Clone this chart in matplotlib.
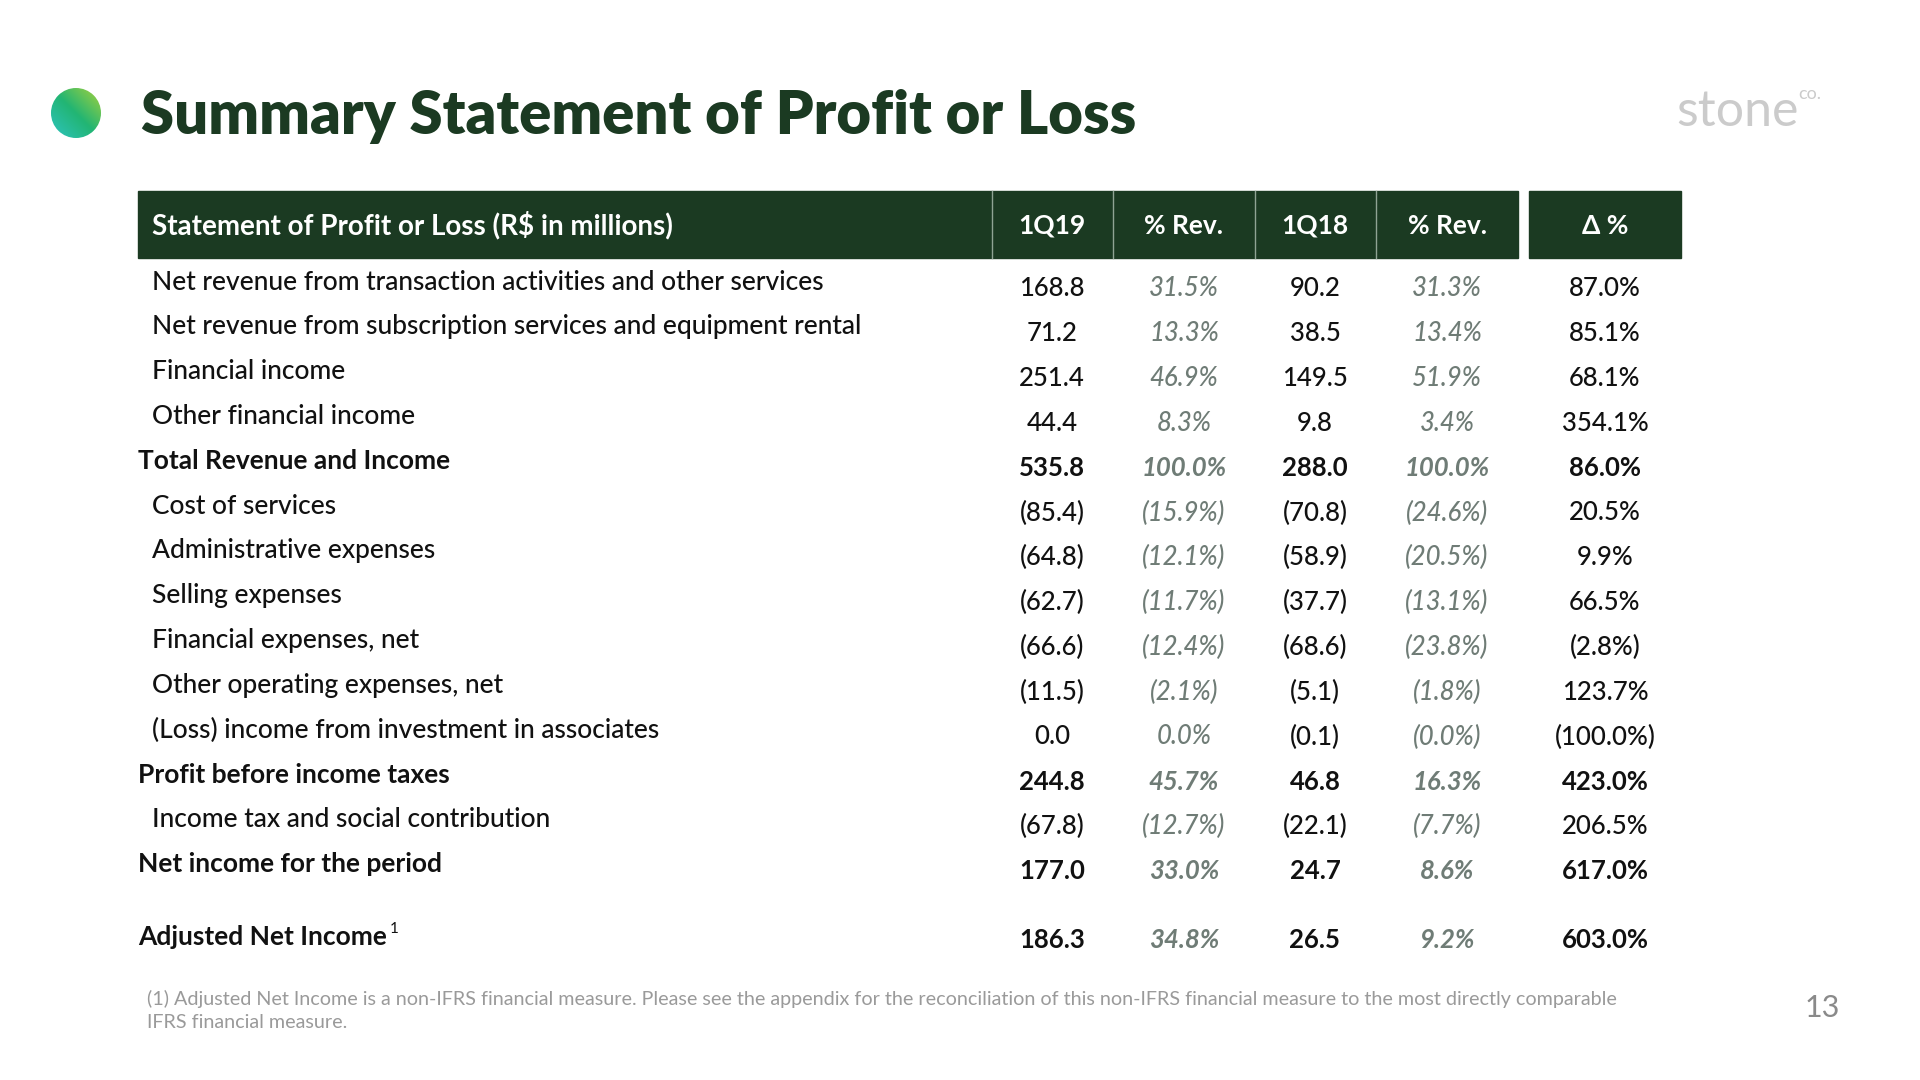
import numpy as np
import matplotlib.pyplot as plt
from matplotlib.patches import Rectangle, Circle
from matplotlib.colors import LinearSegmentedColormap

plt.rcParams['font.family'] = ['Lato', 'DejaVu Sans']

# dados da tabela
rotulos = [
    'Net revenue from transaction activities and other services',
    'Net revenue from subscription services and equipment rental',
    'Financial income',
    'Other financial income',
    'Total Revenue and Income',
    'Cost of services',
    'Administrative expenses',
    'Selling expenses',
    'Financial expenses, net',
    'Other operating expenses, net',
    '(Loss) income from investment in associates',
    'Profit before income taxes',
    'Income tax and social contribution',
    'Net income for the period',
    'Adjusted Net Income',
]
negrito = [False, False, False, False, True, False, False, False, False,
           False, False, True, False, True, True]
v_1q19 = [168.8, 71.2, 251.4, 44.4, 535.8, -85.4, -64.8, -62.7, -66.6,
          -11.5, 0.0, 244.8, -67.8, 177.0, 186.3]
rev_1q19 = [31.5, 13.3, 46.9, 8.3, 100.0, -15.9, -12.1, -11.7, -12.4,
            -2.1, 0.0, 45.7, -12.7, 33.0, 34.8]
v_1q18 = [90.2, 38.5, 149.5, 9.8, 288.0, -70.8, -58.9, -37.7, -68.6,
          -5.1, -0.1, 46.8, -22.1, 24.7, 26.5]
rev_1q18 = [31.3, 13.4, 51.9, 3.4, 100.0, -24.6, -20.5, -13.1, -23.8,
            -1.8, -0.03, 16.3, -7.7, 8.6, 9.2]
delta = [87.0, 85.1, 68.1, 354.1, 86.0, 20.5, 9.9, 66.5, -2.8,
         123.7, -100.0, 423.0, 206.5, 617.0, 603.0]
colunas = ['1Q19', '% Rev.', '1Q18', '% Rev.', '\u0394 %']


def fmt(v, pct=False):
    s = f'{abs(v):.1f}' + ('%' if pct else '')
    return f'({s})' if v < 0 else s


verde = '#1b3a22'
cinza_pct = '#6f7c76'

fig = plt.figure(figsize=(19.2, 10.8), dpi=100)
ax = fig.add_axes([0, 0, 1, 1])
ax.set_xlim(0, 1920)
ax.set_ylim(1080, 0)
ax.axis('off')

# circulo com degradê
cmap = LinearSegmentedColormap.from_list('g', ['#2ec4c0', '#22b573', '#a6d23c'])
xx, yy = np.meshgrid(np.linspace(0, 1, 200), np.linspace(0, 1, 200))
grad = (xx * 0.6 + (1 - yy) * 0.6) / 1.2
img = ax.imshow(grad, cmap=cmap, extent=[51, 101, 138, 88], zorder=2)
img.set_clip_path(Circle((76, 113), 25, transform=ax.transData))

ax.text(141, 116, 'Summary Statement of Profit or Loss', fontsize=43,
        fontweight='heavy', color=verde, va='center', ha='left')

# logo
ax.text(1676, 112, 'stone', fontsize=36, color='#cbcbcb', va='center', ha='left')
ax.text(1798, 94, 'co.', fontsize=13, color='#cbcbcb', va='center', ha='left')

# cabeçalho
y0, y1 = 191, 258
ax.add_patch(Rectangle((138, y0), 1518 - 138, y1 - y0, color=verde, zorder=1))
ax.add_patch(Rectangle((1529, y0), 1681 - 1529, y1 - y0, color=verde, zorder=1))
for xs in [992, 1113, 1255, 1376]:
    ax.plot([xs, xs], [y0, y1], color='#8fa394', lw=1, zorder=2)
ax.text(152, (y0 + y1) / 2 + 1, 'Statement of Profit or Loss (R$ in millions)',
        color='white', fontsize=20, fontweight='bold', va='center')
centros = [1052, 1184, 1315, 1447, 1605]
for cx, c in zip(centros, colunas):
    ax.text(cx, (y0 + y1) / 2 + 1, c, color='white', fontsize=19,
            fontweight='bold', va='center', ha='center')

# linhas da tabela
passo = 44.8
for i, r in enumerate(rotulos):
    yl = 282 + i * passo
    yn = 289 + i * passo
    if i == len(rotulos) - 1:
        yl, yn = 937, 940
    peso = 'bold' if negrito[i] else 'medium'
    xl = 138 if negrito[i] else 152
    t = ax.text(xl, yl, r, fontsize=19, fontweight=peso, color='#111111',
                va='center', ha='left')
    if i == len(rotulos) - 1:
        ax.annotate('1', xy=(1, 0.85), xycoords=t, xytext=(2, 0),
                    textcoords='offset points', fontsize=11, color='#111111',
                    va='center', ha='left')
    vals = [(v_1q19[i], False, '#111111'), (rev_1q19[i], True, cinza_pct),
            (v_1q18[i], False, '#111111'), (rev_1q18[i], True, cinza_pct),
            (delta[i], True, '#111111')]
    for j, (v, pct, cor) in enumerate(vals):
        estilo = 'italic' if j in (1, 3) else 'normal'
        ax.text(centros[j], yn, fmt(v, pct), fontsize=18.5, fontweight=peso,
                style=estilo, color=cor, va='center', ha='center')

# rodapé
ax.text(147, 999, '(1) Adjusted Net Income is a non-IFRS financial measure. '
        'Please see the appendix for the reconciliation of this non-IFRS '
        'financial measure to the most directly comparable',
        fontsize=14.2, color='#9a9a9a', va='center', ha='left')
ax.text(147, 1022, 'IFRS financial measure.', fontsize=14.2, color='#9a9a9a',
        va='center', ha='left')
ax.text(1840, 1008, '13', fontsize=22, color='#8a8a8a', va='center', ha='right')

fig.savefig('out.png', dpi=100, facecolor='white')
